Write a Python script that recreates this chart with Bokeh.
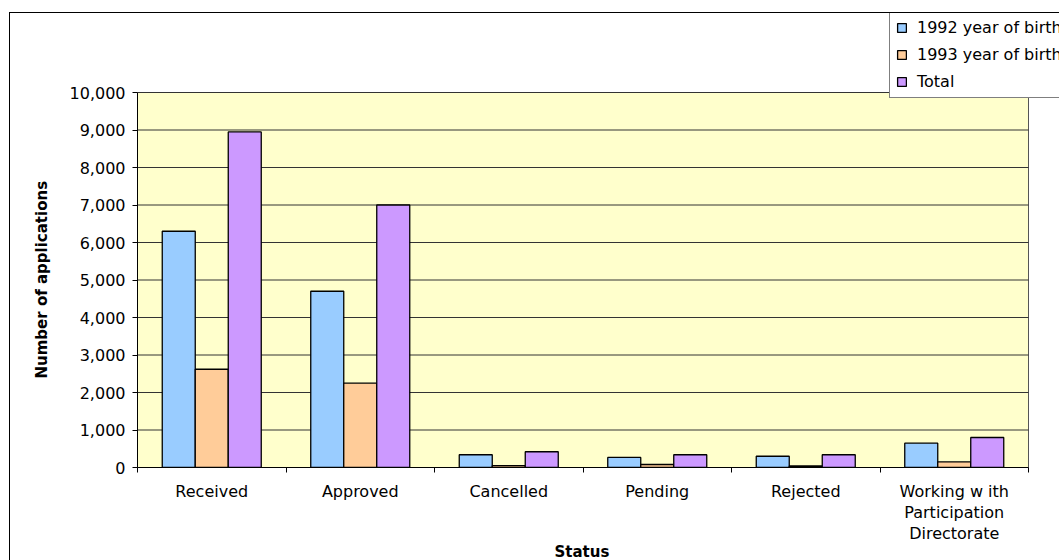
from bokeh.plotting import figure
from bokeh.models import (Range1d, FixedTicker, NumeralTickFormatter, Legend,
                          LegendItem, ColumnDataSource, Title)
from bokeh.transform import dodge
from bokeh.embed import file_html
from bokeh.resources import INLINE

categories = ["Received", "Approved", "Cancelled", "Pending", "Rejected",
              "Working w ith\nParticipation\nDirectorate"]
y1992 = [6300, 4700, 340, 270, 300, 650]
y1993 = [2620, 2250, 50, 80, 40, 150]
total = [8950, 7000, 420, 340, 340, 800]
series_names = ["1992 year of birth", "1993 year of birth", "Total"]
series_colors = ["#99CCFF", "#FFCC99", "#CC99FF"]
y_ticks = list(range(0, 10001, 1000))
x_title = "Status"
y_title = "Number of applications"

FONT = "DejaVu Sans"
n = len(categories)
centers = [i + 0.5 for i in range(n)]
boundaries = list(range(n + 1))
y_min, y_max = y_ticks[0], y_ticks[-1]

# The figure frame is stretched to the top and right edges of the page so the
# legend (which overlaps the chart's corner) is not clipped; the plot area
# itself covers x 0..n and y 0..10000 (891 x 375 px).
W, H = 1059, 560
LEFT, TOP, BOTTOM = 137, 12, 93
PLOT_W, PLOT_H = 891, 375
frame_w, frame_h = W - LEFT, H - TOP - BOTTOM
x_end = n * frame_w / PLOT_W
y_end = y_max * frame_h / PLOT_H

src = ColumnDataSource(dict(x=centers, a=y1992, b=y1993, t=total))

border_css = """
:host { position: relative; }
:host::after {
  content: "";
  position: absolute;
  left: 9px; top: 12px; right: 0; bottom: 0;
  border-left: 1px solid black;
  border-top: 1px solid black;
  pointer-events: none;
}
"""

p = figure(width=W, height=H, output_backend="svg", toolbar_location=None,
           x_range=Range1d(0, x_end), y_range=Range1d(y_min, y_end),
           min_border_left=LEFT, min_border_right=0, min_border_top=TOP,
           min_border_bottom=BOTTOM, stylesheets=[border_css])
p.background_fill_color = "white"
p.border_fill_color = "white"
p.outline_line_color = None
p.xgrid.visible = False
p.ygrid.visible = False

# plot area background and gridlines
p.quad(left=[0], right=[n], bottom=[y_min], top=[y_max], fill_color="#FFFFCC",
       line_color="#555555", line_width=1, level="underlay")
p.segment(x0=[0] * len(y_ticks), x1=[n] * len(y_ticks), y0=y_ticks, y1=y_ticks,
          line_color="#333333", line_width=1, level="underlay")

bw = 1 / 4.5
renderers = []
for off, col, clr in zip([-bw, 0, bw], ["a", "b", "t"], series_colors):
    r = p.vbar(x=dodge("x", off, range=p.x_range), top=col, width=bw, bottom=0,
               source=src, fill_color=clr, line_color="black", line_width=1.3)
    renderers.append(r)

legend = Legend(items=[LegendItem(label=s, renderers=[r]) for s, r in zip(series_names, renderers)],
                location=(752, 369), margin=0, padding=6, spacing=7,
                glyph_width=11, glyph_height=11, label_height=20, label_standoff=10,
                label_text_font=FONT, label_text_font_size="16px",
                label_text_color="black",
                border_line_color="black", border_line_width=1,
                background_fill_color="white", background_fill_alpha=1)
p.add_layout(legend, "center")

# x axis
p.xaxis.bounds = (0, n)
p.xaxis.ticker = FixedTicker(ticks=centers, minor_ticks=boundaries)
p.xaxis.major_label_overrides = {c: lab for c, lab in zip(centers, categories)}
p.xaxis.major_tick_in = 0
p.xaxis.major_tick_out = 0
p.xaxis.minor_tick_in = 0
p.xaxis.minor_tick_out = 5
p.xaxis.minor_tick_line_color = "black"
p.xaxis.axis_line_color = "black"
p.xaxis.major_label_standoff = 9
p.xaxis.major_label_text_font = FONT
p.xaxis.major_label_text_font_size = "16px"
p.xaxis.major_label_text_color = "black"
p.xaxis.major_label_text_line_height = 1.13

# y axis
p.yaxis.bounds = (y_min, y_max)
p.yaxis.ticker = FixedTicker(ticks=y_ticks)
p.yaxis.formatter = NumeralTickFormatter(format="0,0")
p.yaxis.major_tick_in = 0
p.yaxis.major_tick_out = 5
p.yaxis.minor_tick_line_color = None
p.yaxis.axis_line_color = "black"
p.yaxis.major_tick_line_color = "black"
p.yaxis.major_label_standoff = 7
p.yaxis.major_label_text_font = FONT
p.yaxis.major_label_text_font_size = "16px"
p.yaxis.major_label_text_color = "black"

# axis titles, centred on the plot area rather than on the stretched frame
title_style = dict(text_font=FONT, text_font_size="15px", text_font_style="bold",
                   text_color="black")
xt = Title(text=x_title, align="left", offset=417, standoff=-8,
           vertical_align="top", **title_style)
p.add_layout(xt, "below")
yt = Title(text=y_title, align="left", offset=89, standoff=32,
           vertical_align="bottom", **title_style)
p.add_layout(yt, "left")

open("out.html", "w").write(file_html(p, INLINE))
